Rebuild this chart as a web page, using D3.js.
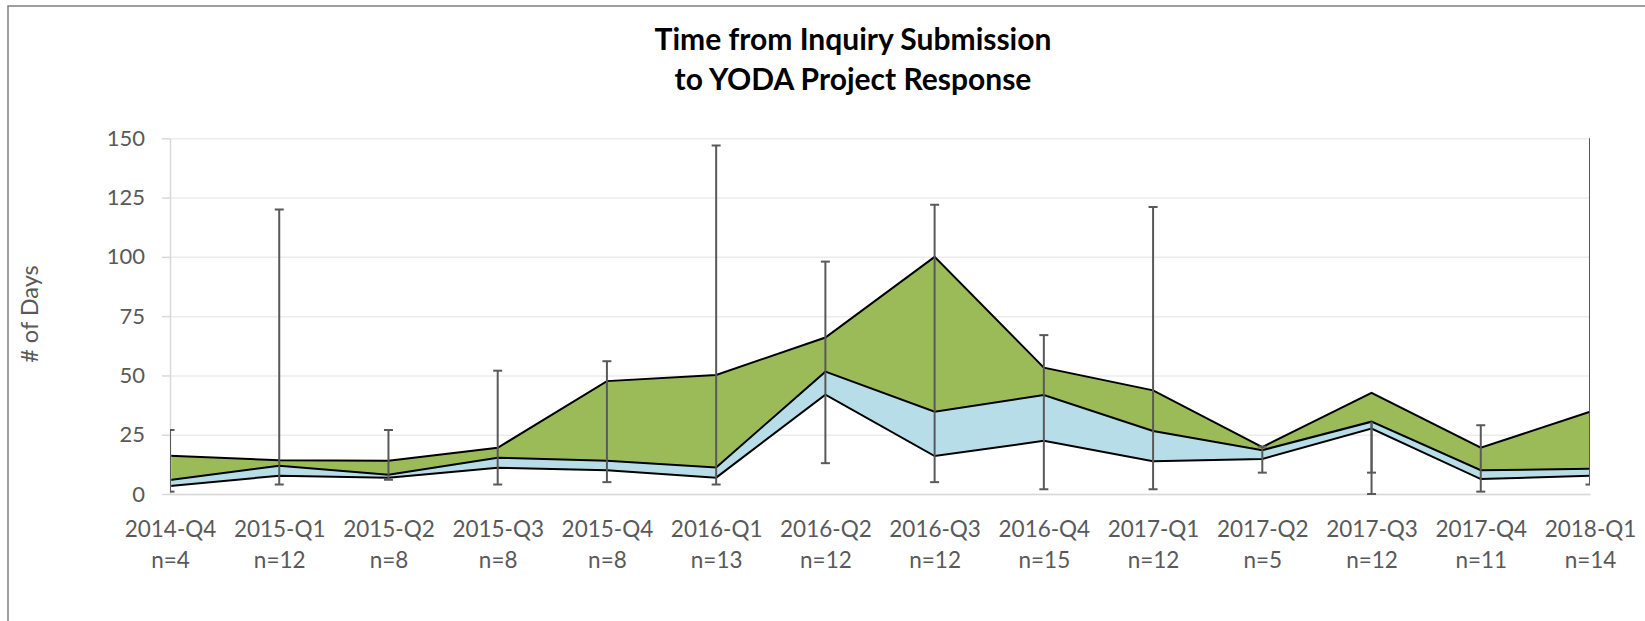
<!DOCTYPE html>
<html>
<head>
<meta charset="utf-8">
<script src="https://cdn.jsdelivr.net/npm/d3@7"></script>
<style>
  body { margin: 0; background: #fff; }
  svg { display: block; font-family: Lato, "Open Sans", sans-serif; }
</style>
</head>
<body>
<div class="chart"></div>
<script>
var categories = ["2014-Q4", "2015-Q1", "2015-Q2", "2015-Q3", "2015-Q4", "2016-Q1", "2016-Q2",
                  "2016-Q3", "2016-Q4", "2017-Q1", "2017-Q2", "2017-Q3", "2017-Q4", "2018-Q1"];
var counts = [4, 12, 8, 8, 8, 13, 12, 12, 15, 12, 5, 12, 11, 14];
var lowerQ = [3.4, 7.7, 6.9, 11.1, 10.0, 6.9, 41.9, 16.0, 22.4, 13.8, 14.8, 27.6, 6.3, 7.7];
var median = [5.9, 11.9, 8.1, 15.3, 14.0, 11.2, 51.6, 34.7, 41.7, 26.6, 18.5, 30.5, 10.0, 10.6];
var upperQ = [16.1, 14.2, 14.0, 19.5, 47.6, 50.2, 66.0, 100, 53.3, 43.7, 19.8, 42.7, 19.5, 34.7];
var maxDays = [27, 120, 27, 52, 56, 147, 98, 122, 67, 121, 20, 9, 29, 180];
var minDays = [1, 4, 6, 4, 5, 4, 13, 5, 2, 2, 9, 0, 1, 4];
var yTicks = [0, 25, 50, 75, 100, 125, 150];

var rows = categories.map(function(c, i) {
  return { cat: c, n: counts[i], lo: lowerQ[i], med: median[i], hi: upperQ[i], max: maxDays[i], min: minDays[i] };
});

var margin = { top: 138.3, left: 170 };
var width = 1420;
var height = 355.7;

var root = d3.select('.chart')
  .append('svg')
    .attr('width', 1645)
    .attr('height', 621);

// chart frame (runs past the window on right and bottom)
root.append('rect')
  .attr('x', 8).attr('y', 6)
  .attr('width', 1800).attr('height', 800)
  .attr('fill', 'none')
  .attr('stroke', '#808080')
  .attr('stroke-width', 1.5);

root.append('text')
  .attr('x', 853)
  .attr('text-anchor', 'middle')
  .attr('font-weight', 'bold')
  .attr('font-size', 30)
  .attr('fill', '#000')
  .selectAll('tspan')
  .data(["Time from Inquiry Submission", "to YODA Project Response"])
  .enter().append('tspan')
    .attr('x', 853)
    .attr('y', function(d, i) { return 50 + i * 40; })
    .text(function(d) { return d; });

root.append('text')
  .attr('transform', 'translate(38, 314) rotate(-90)')
  .attr('text-anchor', 'middle')
  .attr('font-size', 23.5)
  .attr('fill', '#595959')
  .text('# of Days');

var svg = root.append('g')
  .attr('transform', `translate(${margin.left}, ${margin.top})`);

var xScale = d3.scalePoint()
  .domain(categories)
  .range([0, width]);

var yScale = d3.scaleLinear()
  .domain([0, 150])
  .range([height, 0]);

// gridlines
var grid = svg.append('g')
  .call(d3.axisLeft(yScale).tickValues(yTicks).tickSize(-width).tickFormat(''));
grid.select('.domain').remove();
grid.selectAll('line').attr('stroke', '#ececec').attr('stroke-width', 1.5);

var lowArea = d3.area()
  .x(function(d) { return xScale(d.cat); })
  .y0(function(d) { return yScale(d.lo); })
  .y1(function(d) { return yScale(d.med); });

var highArea = d3.area()
  .x(function(d) { return xScale(d.cat); })
  .y0(function(d) { return yScale(d.med); })
  .y1(function(d) { return yScale(d.hi); });

svg.append('path').datum(rows).attr('d', lowArea).attr('fill', '#b7dde8');
svg.append('path').datum(rows).attr('d', highArea).attr('fill', '#9bbb59');

['lo', 'med', 'hi'].forEach(function(k) {
  svg.append('path')
    .datum(rows)
    .attr('d', d3.line()
      .x(function(d) { return xScale(d.cat); })
      .y(function(d) { return yScale(d[k]); }))
    .attr('fill', 'none')
    .attr('stroke', '#000')
    .attr('stroke-width', 2);
});

// axis lines
var yAxis = svg.append('g')
  .call(d3.axisLeft(yScale).tickValues(yTicks).tickSize(8).tickPadding(17).tickSizeOuter(0));
yAxis.select('.domain').attr('stroke', '#d9d9d9').attr('stroke-width', 1.5);
yAxis.selectAll('line').attr('stroke', '#d9d9d9').attr('stroke-width', 1.5);
yAxis.selectAll('text').attr('font-size', 22).attr('fill', '#595959').attr('font-family', 'Lato');

var xAxis = svg.append('g')
  .attr('transform', `translate(0, ${height})`)
  .call(d3.axisBottom(xScale).tickSize(0).tickFormat(''));
xAxis.select('.domain').attr('stroke', '#d9d9d9').attr('stroke-width', 1.5);

var labels = xAxis.selectAll('.tick').append('text')
  .attr('text-anchor', 'middle')
  .attr('font-size', 22.5)
  .attr('fill', '#595959')
  .attr('font-family', 'Lato');
labels.append('tspan').attr('x', 0).attr('y', 43).text(function(d) { return d; });
labels.append('tspan').attr('x', 0).attr('y', 74)
  .text(function(d) { return 'n=' + counts[categories.indexOf(d)]; });

// error bars hang on the median: one arm to the max, one to the min
svg.append('clipPath').attr('id', 'plotclip')
  .append('rect').attr('x', 0).attr('y', 0).attr('width', width).attr('height', height + 6);

var bars = svg.append('g')
  .attr('clip-path', 'url(#plotclip)')
  .selectAll('g')
  .data(rows)
  .enter().append('g')
    .attr('stroke', '#595959')
    .attr('stroke-width', 2);

bars.append('line')
  .attr('x1', function(d) { return xScale(d.cat); })
  .attr('x2', function(d) { return xScale(d.cat); })
  .attr('y1', function(d) { return yScale(d.med); })
  .attr('y2', function(d) { return yScale(d.max); });
bars.append('line')
  .attr('x1', function(d) { return xScale(d.cat); })
  .attr('x2', function(d) { return xScale(d.cat); })
  .attr('y1', function(d) { return yScale(d.med); })
  .attr('y2', function(d) { return yScale(d.min); });
['max', 'min'].forEach(function(k) {
  bars.append('line')
    .attr('x1', function(d) { return xScale(d.cat) - 4.5; })
    .attr('x2', function(d) { return xScale(d.cat) + 4.5; })
    .attr('y1', function(d) { return yScale(d[k]); })
    .attr('y2', function(d) { return yScale(d[k]); });
});
</script>
</body>
</html>
